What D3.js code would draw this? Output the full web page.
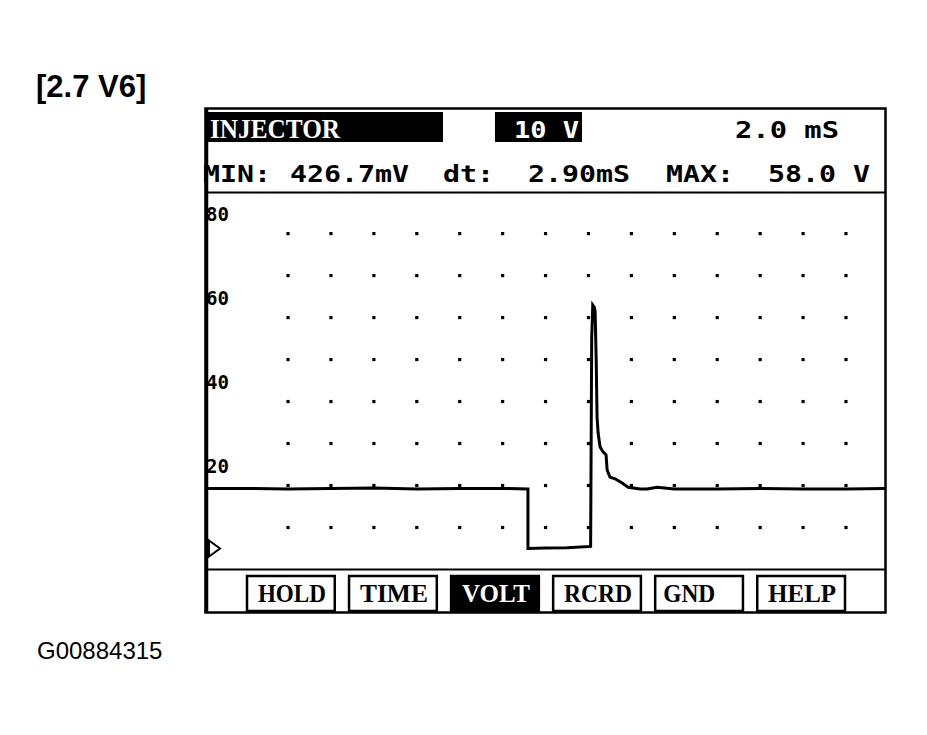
<!DOCTYPE html>
<html><head><meta charset="utf-8">
<script src="https://cdn.jsdelivr.net/npm/d3@7"></script>
<style>body{margin:0;background:#fff}</style>
</head><body>
<svg id="c" width="927" height="735"></svg>
<script>
// ---- data ----
const timeMs = [0, 2, 4, 6, 8, 10, 12, 14, 15.18, 15.18, 16, 17, 18.10, 18.15, 18.20, 18.27, 18.31, 18.36, 18.40, 18.45, 18.54, 18.68, 18.82, 18.87, 19.00, 19.24, 19.57, 19.85, 20.41, 20.73, 21.2, 22, 24, 26, 28, 30, 32];
const volts  = [14.3, 14.3, 14.2, 14.3, 14.4, 14.2, 14.3, 14.3, 14.2, 0.0, 0.1, 0.2, 0.5, 50.0, 58.0, 57.5, 56.5, 45.0, 31.3, 27.5, 24.2, 23.0, 22.3, 18.7, 17.0, 16.6, 15.6, 14.6, 14.2, 14.2, 14.6, 14.2, 14.2, 14.3, 14.2, 14.2, 14.3];
const yTicks = [20, 40, 60, 80];
const dotTimes = [4, 6, 8, 10, 12, 14, 16, 18, 20, 22, 24, 26, 28, 30];
const dotVolts = [5, 15, 25, 35, 45, 55, 65, 75];
const title = "[2.7 V6]";
const figId = "G00884315";
const channel = "INJECTOR";
const voltsDiv = "10 V";
const timeDiv = "2.0 mS";
const readouts = [["MIN:", 203], ["426.7mV", 290], ["dt:", 443], ["2.90mS", 528], ["MAX:", 666], ["58.0 V", 768]];
const buttons = ["HOLD", "TIME", "VOLT", "RCRD", "GND", "HELP"];
const activeButton = "VOLT";

const svg = d3.select("#c");
const x = d3.scaleLinear().domain([0, 32]).range([202.2, 888.9]);
const y = d3.scaleLinear().domain([0, 80]).range([548.5, 212.6]);

const MONO = "'DejaVu Sans Mono', monospace";
const SERIF = "'Liberation Serif', 'DejaVu Serif', serif";

function txt(g, s, xx, yy, opts) {
  const t = g.append("text").attr("x", xx).attr("y", yy).text(s)
    .attr("font-family", opts.family).attr("font-weight", "bold")
    .attr("font-size", opts.size).attr("fill", opts.fill || "#000");
  if (opts.len) t.attr("textLength", opts.len).attr("lengthAdjust", "spacingAndGlyphs");
  return t;
}

// title + figure id
svg.append("text").attr("x", 36).attr("y", 97).text(title)
  .attr("font-family", "'Liberation Sans', Arial, sans-serif").attr("font-weight", "bold")
  .attr("font-size", 31).attr("fill", "#000");
svg.append("text").attr("x", 37).attr("y", 659).text(figId)
  .attr("font-family", "'Liberation Sans', Arial, sans-serif")
  .attr("font-size", 24).attr("fill", "#000");

// header row 1
svg.append("rect").attr("x", 205).attr("y", 112).attr("width", 238).attr("height", 30).attr("fill", "#000");
txt(svg, channel, 210, 138, {family: SERIF, size: 28, fill: "#fff", len: 130});
svg.append("rect").attr("x", 495).attr("y", 112).attr("width", 87).attr("height", 30).attr("fill", "#000");
txt(svg, voltsDiv, 514, 137.5, {family: MONO, size: 23, fill: "#fff", len: 65});
txt(svg, timeDiv, 735, 137.5, {family: MONO, size: 23, len: 104});

// header row 2 readouts
readouts.forEach(([s, xx]) => txt(svg, s, xx, 182, {family: MONO, size: 23, len: s.length * 17}));

// plot area clip
svg.append("clipPath").attr("id", "pc").append("rect")
  .attr("x", 207).attr("y", 193).attr("width", 678).attr("height", 376);

// grid dots
const dots = [];
dotTimes.forEach(t => dotVolts.forEach(v => dots.push([t, v])));
svg.append("g").selectAll("rect").data(dots).join("rect")
  .attr("x", d => x(d[0]) - 1.6).attr("y", d => y(d[1]) - 1.6)
  .attr("width", 3.2).attr("height", 3.2).attr("fill", "#000");

// y labels via axis
const ax = svg.append("g").attr("transform", "translate(205,0)")
  .call(d3.axisRight(y).tickValues(yTicks).tickSize(0).tickPadding(1).tickFormat(d3.format("d")));
ax.select(".domain").remove();
ax.selectAll("text").attr("font-family", MONO).attr("font-weight", "bold")
  .attr("font-size", 19).attr("fill", "#000").attr("dy", "0.4em")
  .attr("textLength", 23).attr("lengthAdjust", "spacingAndGlyphs");

// ground marker
svg.append("path").attr("d", `M209,${y(0) - 8} L220,${y(0)} L209,${y(0) + 8} Z`)
  .attr("fill", "none").attr("stroke", "#000").attr("stroke-width", 2);

// trace
const pts = timeMs.map((t, i) => [t, volts[i]]);
svg.append("path").datum(pts).attr("clip-path", "url(#pc)")
  .attr("d", d3.line().x(d => x(d[0])).y(d => y(d[1])))
  .attr("fill", "none").attr("stroke", "#000").attr("stroke-width", 3)
  .attr("stroke-linejoin", "miter");

// frame and separators
svg.append("rect").attr("x", 205.5).attr("y", 108.5).attr("width", 680).attr("height", 504)
  .attr("fill", "none").attr("stroke", "#000").attr("stroke-width", 2.5);
svg.append("line").attr("x1", 206.5).attr("x2", 206.5).attr("y1", 108).attr("y2", 613)
  .attr("stroke", "#000").attr("stroke-width", 3.5);
[192.5, 569.5].forEach(yy => svg.append("line").attr("x1", 205).attr("x2", 886)
  .attr("y1", yy).attr("y2", yy).attr("stroke", "#000").attr("stroke-width", 2.2));

// buttons
const bx = d3.scaleBand().domain(buttons).range([247, 845]).paddingInner(0.14).paddingOuter(0);
const bg = svg.append("g");
buttons.forEach(b => {
  const act = b === activeButton;
  bg.append("rect").attr("x", bx(b)).attr("y", 576).attr("width", bx.bandwidth()).attr("height", 35)
    .attr("fill", act ? "#000" : "#fff").attr("stroke", "#000").attr("stroke-width", 2.5);
  const len = b.length === 3 ? 52 : 68;
  const x0 = b === "GND" ? bx(b) + 8 : bx(b) + bx.bandwidth() / 2 - len / 2 + 1;
  txt(bg, b, x0, 602, {family: SERIF, size: 25, fill: act ? "#fff" : "#000", len: len});
});
</script>
</body></html>
